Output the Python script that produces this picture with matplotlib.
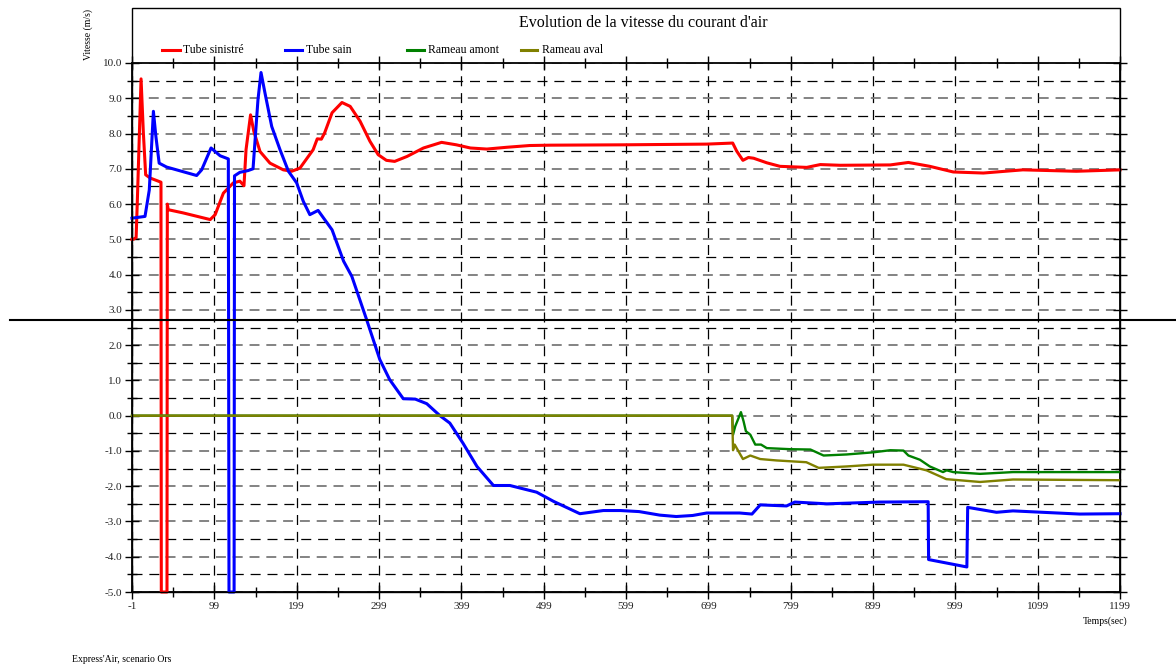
import matplotlib
matplotlib.use('Agg')
import matplotlib.pyplot as plt
from matplotlib.lines import Line2D
from matplotlib.patches import Rectangle
import numpy as np

plt.rcParams['font.family'] = ['Liberation Serif', 'DejaVu Serif']
plt.rcParams['axes.unicode_minus'] = False

# Tube sinistré
t_sinistre = [-1, 0.6, 4, 5.4, 10, 12.8, 15.6, 20.9, 34.2, 34.6, 41.5, 41.9, 43, 61, 94, 100,
              110, 122, 130, 135, 137.5, 143, 147, 154.5, 166.6, 182.8, 193, 203, 219, 224, 229,
              233, 242, 254, 264, 276, 288, 298, 308, 318, 333, 353, 375, 393, 410, 430, 454,
              482, 507, 596, 697, 728.6, 733.5, 741, 747.6, 754, 770, 786, 818.5, 835, 859, 920,
              942, 968, 996.5, 1033, 1081, 1146, 1199]
v_sinistre = [5.0, 5.0, 5.05, 6.03, 9.55, 8.02, 6.83, 6.74, 6.62, -5.0, -5.0, 6.0, 5.84, 5.75,
              5.56, 5.7, 6.31, 6.6, 6.65, 6.52, 7.54, 8.53, 8.06, 7.49, 7.16, 6.97, 6.93, 7.02,
              7.54, 7.85, 7.84, 8.02, 8.59, 8.88, 8.77, 8.35, 7.78, 7.4, 7.24, 7.21, 7.35, 7.59,
              7.75, 7.68, 7.59, 7.56, 7.61, 7.66, 7.67, 7.68, 7.7, 7.73, 7.5, 7.24, 7.32, 7.3,
              7.17, 7.07, 7.04, 7.12, 7.1, 7.11, 7.18, 7.07, 6.91, 6.88, 6.97, 6.93, 6.97]

# Tube sain
t_sain = [-1, 14.8, 20, 25, 28, 32, 41, 77.5, 83.6, 95, 106, 116, 116.8, 123, 123.5, 130, 140,
          146, 152, 155.7, 160.5, 168.7, 178.8, 189, 199, 207, 215, 225, 242, 256, 266, 284, 300,
          312, 328.5, 343, 357, 373, 385, 401, 418, 438, 458, 490.5, 511, 543, 571.5, 592, 615,
          640, 660, 680, 697, 737, 752, 762, 794, 804, 843, 907, 966, 966.5, 1013, 1014, 1049,
          1069, 1150, 1199]
v_sain = [5.6, 5.65, 6.4, 8.63, 7.92, 7.16, 7.05, 6.81, 6.97, 7.59, 7.37, 7.28, -5.0, -5.0, 6.8,
          6.9, 6.95, 7.0, 8.96, 9.73, 9.15, 8.2, 7.54, 6.93, 6.6, 6.08, 5.7, 5.82, 5.27, 4.38,
          3.95, 2.72, 1.59, 1.02, 0.48, 0.47, 0.34, 0.0, -0.21, -0.78, -1.44, -1.98, -1.98,
          -2.17, -2.43, -2.78, -2.69, -2.69, -2.72, -2.82, -2.86, -2.83, -2.76, -2.76, -2.79,
          -2.53, -2.56, -2.45, -2.5, -2.45, -2.44, -4.08, -4.29, -2.6, -2.74, -2.7, -2.79, -2.78]

# Rameau amont
t_amont = [-1, 728, 729, 731.7, 738.6, 741.8, 744.6, 750, 756, 763, 770, 798, 823, 839, 867, 899,
           920, 936, 942, 956, 968, 984, 988.5, 996.5, 1029, 1069, 1199]
v_amont = [0, 0, -0.54, -0.3, 0.1, -0.16, -0.44, -0.54, -0.82, -0.82, -0.92, -0.95, -0.96, -1.13,
           -1.1, -1.04, -0.98, -0.99, -1.13, -1.25, -1.44, -1.6, -1.55, -1.6, -1.65, -1.6, -1.6]

# Rameau aval
t_aval = [-1, 728, 729, 731, 741, 750, 762, 782, 818, 833, 867, 899, 936, 964, 988, 1029, 1069, 1199]
v_aval = [0, 0, -0.98, -0.82, -1.23, -1.13, -1.23, -1.27, -1.32, -1.48, -1.44, -1.39, -1.39,
          -1.55, -1.8, -1.88, -1.81, -1.83]

labels = ['Tube sinistré', 'Tube sain', 'Rameau amont', 'Rameau aval']
colors = ['#ff0000', '#0000ff', '#008000', '#808000']

W, H = 1176, 666
fig = plt.figure(figsize=(W / 100, H / 100), dpi=100)
ax = fig.add_axes([132 / W, 1 - 592 / H, 988 / W, 529 / H])

series = [(t_sinistre, v_sinistre), (t_sain, v_sain), (t_amont, v_amont), (t_aval, v_aval)]
widths = [2.2, 2.2, 1.7, 1.7]
for (t, v), c, lw in zip(series, colors, widths):
    ax.plot(t, v, color=c, lw=lw, clip_on=False, zorder=3)

ax.set_xlim(-1, 1199)
ax.set_ylim(-5, 10)
ax.set_xticks(np.arange(-1, 1200, 100))
ax.set_xticks(np.arange(49, 1200, 100), minor=True)
ax.set_yticks(np.arange(-5, 10.01, 1))
ax.set_yticks(np.arange(-4.5, 10, 1), minor=True)
ax.set_yticklabels(['%.1f' % v for v in np.arange(-5, 10.01, 1)])

ax.grid(which='major', axis='y', color='#7a7a7a', lw=1.3, linestyle=(0, (5.5, 3.8)))
ax.grid(which='minor', axis='y', color='black', lw=0.9, linestyle=(0, (8, 5.5)))
ax.grid(which='major', axis='x', color='black', lw=0.9, linestyle=(0, (8, 5.5)))

ax.tick_params(axis='both', which='both', direction='inout', top=True, right=True,
               labelsize=8, width=1.0, pad=2, colors='black', labelcolor='#222222')
ax.tick_params(axis='both', which='major', length=10)
ax.tick_params(axis='both', which='minor', length=7)
for s in ax.spines.values():
    s.set_linewidth(1.3)

# outer frame that encloses title and legend
fig.add_artist(Rectangle((132 / W, 1 - 592 / H), 988 / W, 584 / H, transform=fig.transFigure,
                         fill=False, ec='black', lw=1.0))

fig.text(643 / W, 1 - 23 / H, "Evolution de la vitesse du courant d'air",
         ha='center', va='center', fontsize=11.5)

leg_x = [(162, 180, 183), (285, 302, 306), (407, 424, 428), (521, 537, 542)]
for (x0, x1, xt), lab, c in zip(leg_x, labels, colors):
    fig.add_artist(Line2D([x0 / W, x1 / W], [1 - 50 / H] * 2, transform=fig.transFigure,
                          color=c, lw=2.2))
    fig.text(xt / W, 1 - 50 / H, lab, ha='left', va='center', fontsize=8.5)

fig.text(88 / W, 1 - 34 / H, 'Vitesse (m/s)', rotation=90, ha='center', va='center', fontsize=7)
fig.text(1127 / W, 1 - 621 / H, 'Temps(sec)', ha='right', va='center', fontsize=7)
fig.text(72 / W, 1 - 660 / H, "Express'Air, scenario Ors", ha='left', va='center', fontsize=7)

# horizontal rule across the page
fig.add_artist(Line2D([10 / W, 1.0], [1 - 320 / H] * 2, transform=fig.transFigure,
                      color='black', lw=1.5, zorder=5))

fig.savefig('out.png', dpi=100)
